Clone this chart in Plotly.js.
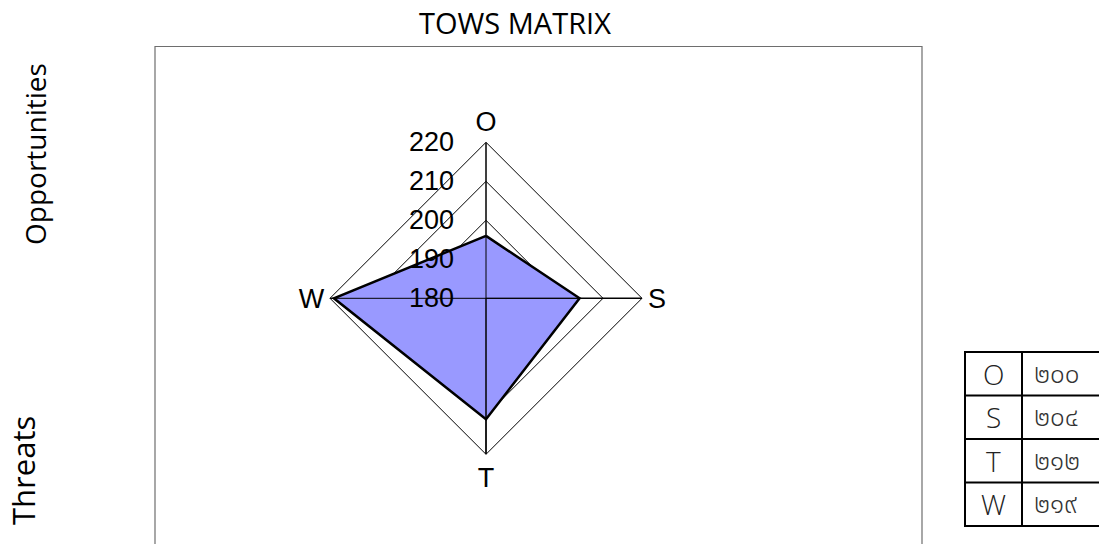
<!DOCTYPE html>
<html>
<head>
<meta charset="utf-8">
<script src="https://cdn.plot.ly/plotly-3.0.1.min.js"></script>
<style>html,body{margin:0;padding:0;background:#fff;}#chart{width:1099px;height:544px;}</style>
</head>
<body>
<div id="chart"></div>
<script>
// ---- data ----
var categories = ['O', 'S', 'T', 'W'];
var values = [196, 204, 211, 219];          // values as drawn in the radar polygon
var radialTicks = [180, 190, 200, 210, 220];
var tableLabels = ['O', 'S', 'T', 'W'];
var tableValues = ['๒๐๐', '๒๐๔', '๒๑๒', '๒๑๙'];
var sideLabels = ['Opportunities', 'Threats'];
var chartTitle = 'TOWS MATRIX';

var W = 1099, H = 544;
function px(x) { return x / W; }
function py(y) { return 1 - y / H; }

var rMin = radialTicks[0], rMax = radialTicks[radialTicks.length - 1];

var dataTrace = {
  type: 'scatterpolar',
  r: values.concat([values[0]]),
  theta: categories.concat([categories[0]]),
  mode: 'lines',
  fill: 'toself',
  fillcolor: '#9999FF',
  line: { color: '#000000', width: 2.5 },
  hoverinfo: 'skip',
  showlegend: false
};

// spokes drawn above the fill (axis lines)
var spokeR = [], spokeT = [];
for (var i = 0; i < 2; i++) {
  spokeR.push(rMax, rMin, rMax);
  spokeT.push(categories[i], categories[i], categories[i + 2]);
  if (i === 0) { spokeR.push(rMin); spokeT.push(categories[i + 2]); }
}
var spokes = {
  type: 'scatterpolar',
  r: spokeR,
  theta: spokeT,
  mode: 'lines',
  line: { color: '#000000', width: 1 },
  hoverinfo: 'skip',
  showlegend: false
};

var shapes = [
  // outer frame
  { type: 'rect', xref: 'paper', yref: 'paper', x0: px(155), x1: px(922), y0: py(560), y1: py(46.5),
    line: { color: '#6e6e6e', width: 1.2 }, fillcolor: 'rgba(0,0,0,0)' },
  // table outline
  { type: 'rect', xref: 'paper', yref: 'paper', x0: px(965), x1: px(1110), y0: py(526), y1: py(352),
    line: { color: '#000000', width: 2 }, fillcolor: 'rgba(0,0,0,0)' },
  { type: 'line', xref: 'paper', yref: 'paper', x0: px(1022), x1: px(1022), y0: py(526), y1: py(352),
    line: { color: '#000000', width: 2 } }
];
var rowEdges = [352, 395.5, 439, 482.5, 526];
for (var k = 1; k < rowEdges.length - 1; k++) {
  shapes.push({ type: 'line', xref: 'paper', yref: 'paper', x0: px(965), x1: px(1110),
    y0: py(rowEdges[k]), y1: py(rowEdges[k]), line: { color: '#000000', width: 2 } });
}

var annotations = [
  { text: sideLabels[0], xref: 'paper', yref: 'paper', x: px(35), y: py(154), textangle: -90,
    showarrow: false, xanchor: 'center', yanchor: 'middle',
    font: { family: 'Open Sans, Noto Sans, sans-serif', size: 28, color: '#000' } },
  { text: sideLabels[1], xref: 'paper', yref: 'paper', x: px(23), y: py(471), textangle: -90,
    showarrow: false, xanchor: 'center', yanchor: 'middle',
    font: { family: 'Open Sans, Noto Sans, sans-serif', size: 31, color: '#000' } }
];
for (var j = 0; j < tableLabels.length; j++) {
  var yc = (rowEdges[j] + rowEdges[j + 1]) / 2;
  annotations.push({ text: tableLabels[j], xref: 'paper', yref: 'paper', x: px(993), y: py(yc),
    showarrow: false, xanchor: 'center', yanchor: 'middle',
    font: { family: 'Open Sans, Noto Sans, sans-serif', size: 28, color: '#222', weight: 300 } });
  annotations.push({ text: tableValues[j], xref: 'paper', yref: 'paper', x: px(1032), y: py(yc + 1),
    showarrow: false, xanchor: 'left', yanchor: 'middle',
    font: { family: 'Noto Sans Thai, Noto Sans, sans-serif', size: 26, color: '#333', weight: 300 } });
}

var layout = {
  width: W, height: H,
  margin: { l: 0, r: 0, t: 0, b: 0 },
  paper_bgcolor: '#ffffff',
  showlegend: false,
  title: { text: chartTitle, x: px(515), xanchor: 'center', y: py(24), yanchor: 'middle',
    font: { family: 'Open Sans, Noto Sans, sans-serif', size: 29, color: '#000' } },
  polar: {
    domain: { x: [px(330), px(642)], y: [py(454.3), py(142.3)] },
    bgcolor: '#ffffff',
    gridshape: 'linear',
    angularaxis: {
      type: 'category',
      categoryarray: categories,
      rotation: 90,
      direction: 'clockwise',
      showline: true, linecolor: '#000', linewidth: 1,
      showgrid: true, gridcolor: '#000', gridwidth: 1,
      ticks: '',
      tickfont: { family: 'Liberation Sans, Arial, sans-serif', size: 27, color: '#000' }
    },
    radialaxis: {
      range: [rMin, rMax],
      tickvals: radialTicks,
      ticktext: radialTicks.map(String),
      angle: 90,
      tickangle: 90,
      side: 'counterclockwise',
      showline: false,
      showgrid: true, gridcolor: '#000', gridwidth: 1,
      ticks: 'outside', ticklen: 22, tickcolor: 'rgba(0,0,0,0)',
      tickfont: { family: 'Liberation Sans, Arial, sans-serif', size: 27, color: '#000' },
      layer: 'above traces'
    }
  },
  shapes: shapes,
  annotations: annotations
};

Plotly.newPlot('chart', [dataTrace, spokes], layout, { displayModeBar: false, staticPlot: true });
</script>
</body>
</html>
